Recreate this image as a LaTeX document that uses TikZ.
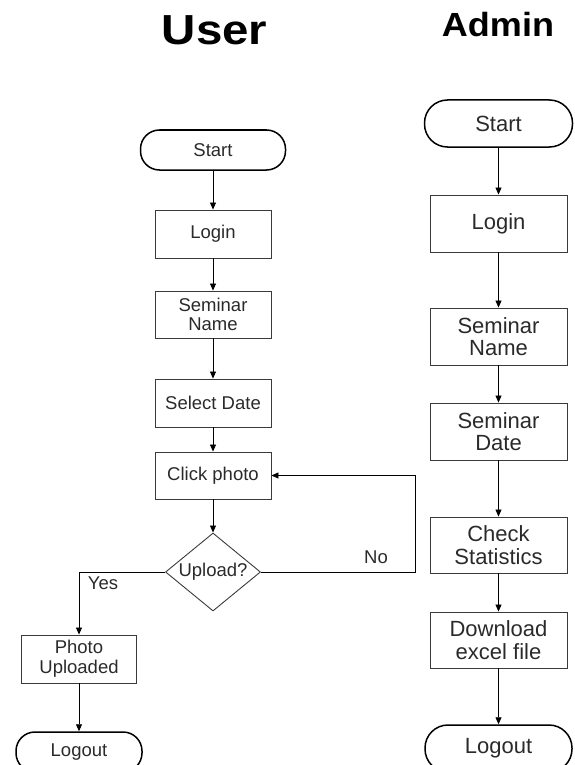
\documentclass[tikz,border=0pt]{standalone}
\usepackage{fontspec}
\setmainfont{Liberation Sans}
\usetikzlibrary{arrows.meta,shapes.geometric}

\definecolor{boxline}{HTML}{3A3A3A}
\definecolor{boxtext}{HTML}{2A2A2A}

\tikzset{
  ufont/.style={font=\fontsize{18.5}{19.7}\selectfont, text=boxtext},
  afont/.style={font=\fontsize{22}{22.5}\selectfont, text=boxtext},
  ubox/.style={ufont, draw=boxline, line width=0.9pt, minimum width=116pt,
               minimum height=48pt, inner sep=0pt, align=center},
  abox/.style={afont, draw=boxline, line width=0.9pt, minimum width=137pt,
               minimum height=57pt, inner sep=0pt, align=center},
  terminal/.style={draw=black, line width=1.5pt, rounded corners=19pt,
                   inner sep=0pt, align=center},
  decision/.style={ufont, draw=boxline, line width=0.9pt, shape=diamond,
                   aspect=1.22, inner sep=0pt, minimum width=95pt, minimum height=78pt},
  flow/.style={draw=black, line width=0.8pt, -{Triangle[length=7pt,width=6pt]}},
  title/.style={font=\bfseries, anchor=base, transform shape}
}

\begin{document}
\begin{tikzpicture}[x=1pt, y=-1pt]
  \useasboundingbox (0,0) rectangle (574,765);

  % column headings
  \node[title, xscale=1.13, font=\bfseries\fontsize{42}{42}\selectfont] (tuser) at (214.5,45) {User};
  \node[title, xscale=1.075, font=\bfseries\fontsize{33.5}{33.5}\selectfont] (tadmin) at (498,37) {Admin};

  % ---------- user flow ----------
  \node[terminal, ufont, minimum width=145pt, minimum height=40pt] (ustart) at (213,150) {Start};
  \node[ubox] (ulogin) at (213,234) {Login};
  \node[ubox, minimum height=47pt] (uname) at (213,314.5) {Seminar\\Name};
  \node[ubox] (udate) at (213,403) {Select Date};
  \node[ubox, minimum height=47pt] (uclick) at (213,475.5) {Click photo};
  \node[decision] (udec) at (213,572) {Upload?};
  \node[ubox, minimum width=115pt] (uphoto) at (79,659) {Photo\\Uploaded};
  \node[terminal, ufont, minimum width=126pt, minimum height=40pt] (ulogout) at (79,752) {Logout};

  \coordinate (nobend) at (415,572);

  \draw[flow] (ustart) -- (ulogin);
  \draw[flow] (ulogin) -- (uname);
  \draw[flow] (uname) -- (udate);
  \draw[flow] (udate) -- (uclick);
  \draw[flow] (uclick) -- (udec);
  \draw[flow] (udec.west) -| (uphoto.north);
  \draw[flow] (udec.east) -- (nobend) |- (uclick.east);
  \draw[flow] (uphoto) -- (ulogout);

  \node[ufont, anchor=center] (lyes) at (103,583) {Yes};
  \node[ufont, anchor=center] (lno) at (376,557) {No};

  % ---------- admin flow ----------
  \node[terminal, afont, rounded corners=23pt, minimum width=148pt, minimum height=47pt] (astart) at (498.5,123.5) {Start};
  \node[abox] (alogin) at (498.5,223.5) {Login};
  \node[abox] (aname) at (498.5,336.5) {Seminar\\Name};
  \node[abox] (adate) at (498.5,431.5) {Seminar\\Date};
  \node[abox, minimum height=56pt] (astat) at (498.5,545) {Check\\Statistics};
  \node[abox, minimum height=56pt] (adown) at (498.5,640) {Download\\excel file};
  \node[terminal, afont, rounded corners=23pt, minimum width=147pt, minimum height=47pt] (alogout) at (498.5,748.5) {Logout};

  \draw[flow] (astart) -- (alogin);
  \draw[flow] (alogin) -- (aname);
  \draw[flow] (aname) -- (adate);
  \draw[flow] (adate) -- (astat);
  \draw[flow] (astat) -- (adown);
  \draw[flow] (adown) -- (alogout);
\end{tikzpicture}
\end{document}
